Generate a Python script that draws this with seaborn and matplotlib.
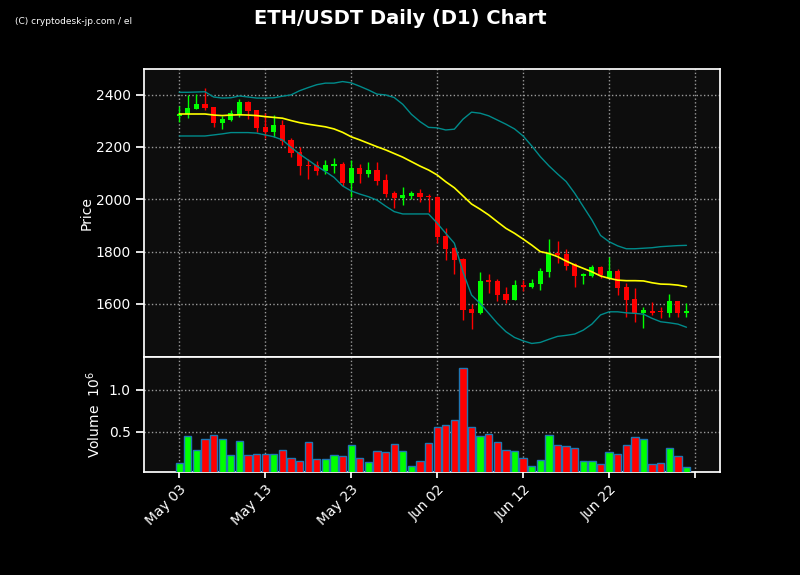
import numpy as np
import pandas as pd
import matplotlib
matplotlib.use("Agg")
import matplotlib.pyplot as plt
import seaborn as sns

# daily candles, May 03 .. Jul 01
opens = [2318, 2326, 2347, 2364, 2353, 2290, 2303, 2326, 2370, 2341,
         2277, 2259, 2284, 2226, 2180, 2132, 2131, 2108, 2128, 2135,
         2064, 2121, 2098, 2112, 2074, 2023, 2006, 2014, 2023, 2011,
         2008, 1858, 1814, 1772, 1579, 1566, 1690, 1688, 1638, 1617,
         1672, 1663, 1676, 1723, 1796, 1791, 1752, 1708, 1708, 1740,
         1700, 1727, 1664, 1619, 1565, 1575, 1574, 1567, 1610, 1567]
closes = [2325, 2348, 2364, 2350, 2290, 2307, 2331, 2372, 2338, 2274,
          2259, 2284, 2224, 2178, 2127, 2128, 2108, 2131, 2135, 2061,
          2120, 2098, 2112, 2071, 2019, 2006, 2016, 2023, 2007, 2007,
          1857, 1810, 1768, 1577, 1566, 1688, 1685, 1634, 1616, 1672,
          1663, 1679, 1727, 1796, 1787, 1745, 1707, 1713, 1740, 1710,
          1727, 1662, 1615, 1564, 1577, 1567, 1568, 1611, 1566, 1572]
highs = [2358, 2399, 2401, 2425, 2353, 2318, 2341, 2384, 2374, 2342,
         2329, 2322, 2303, 2233, 2199, 2155, 2145, 2150, 2157, 2142,
         2150, 2134, 2142, 2142, 2096, 2032, 2046, 2032, 2038, 2019,
         2012, 1891, 1816, 1775, 1598, 1721, 1713, 1697, 1664, 1691,
         1691, 1694, 1739, 1847, 1841, 1810, 1758, 1717, 1748, 1745,
         1781, 1733, 1681, 1660, 1590, 1609, 1590, 1637, 1611, 1602]
lows = [2297, 2310, 2345, 2341, 2278, 2268, 2300, 2314, 2306, 2256,
        2233, 2237, 2208, 2163, 2093, 2077, 2093, 2097, 2102, 2052,
        2008, 2061, 2084, 2053, 2010, 1966, 1977, 2000, 1991, 1953,
        1834, 1768, 1713, 1538, 1504, 1563, 1641, 1611, 1605, 1616,
        1650, 1660, 1653, 1704, 1755, 1730, 1666, 1676, 1704, 1698,
        1698, 1634, 1551, 1532, 1507, 1558, 1545, 1551, 1551, 1551]
volumes = [0.138, 0.452, 0.281, 0.417, 0.464, 0.417, 0.226, 0.393, 0.226, 0.245,
           0.245, 0.245, 0.281, 0.190, 0.162, 0.376, 0.178, 0.178, 0.226, 0.214,
           0.345, 0.190, 0.150, 0.274, 0.262, 0.357, 0.274, 0.095, 0.155, 0.369,
           0.560, 0.583, 0.643, 1.262, 0.560, 0.452, 0.476, 0.381, 0.286, 0.274,
           0.190, 0.095, 0.167, 0.464, 0.345, 0.333, 0.310, 0.155, 0.155, 0.119,
           0.262, 0.238, 0.345, 0.440, 0.417, 0.119, 0.131, 0.310, 0.214, 0.083]

# 20-day moving average and bollinger bands
ma = [2326, 2326, 2326, 2326, 2322, 2320, 2322, 2323, 2322, 2320,
      2316, 2313, 2310, 2301, 2293, 2287, 2282, 2277, 2269, 2256,
      2239, 2227, 2214, 2201, 2189, 2175, 2161, 2144, 2127, 2112,
      2093, 2067, 2044, 2013, 1982, 1962, 1940, 1914, 1889, 1870,
      1848, 1825, 1800, 1793, 1781, 1764, 1749, 1736, 1723, 1707,
      1698, 1691, 1689, 1689, 1688, 1681, 1676, 1675, 1672, 1666]
upper = [2409, 2409, 2410, 2411, 2391, 2387, 2388, 2395, 2391, 2387,
         2387, 2388, 2394, 2399, 2415, 2427, 2438, 2444, 2444, 2450,
         2445, 2432, 2418, 2402, 2399, 2389, 2363, 2325, 2297, 2275,
         2273, 2265, 2268, 2306, 2333, 2329, 2319, 2303, 2287, 2269,
         2242, 2204, 2163, 2128, 2097, 2068, 2023, 1972, 1921, 1862,
         1838, 1822, 1811, 1811, 1813, 1815, 1819, 1821, 1823, 1824]
lower = [2242, 2242, 2242, 2242, 2246, 2250, 2255, 2255, 2255, 2253,
         2246, 2239, 2227, 2199, 2173, 2150, 2127, 2106, 2084, 2051,
         2032, 2020, 2010, 1997, 1974, 1953, 1944, 1944, 1944, 1944,
         1909, 1870, 1832, 1723, 1634, 1602, 1564, 1526, 1494, 1472,
         1459, 1449, 1453, 1465, 1476, 1480, 1485, 1500, 1523, 1558,
         1570, 1570, 1566, 1564, 1561, 1545, 1532, 1528, 1523, 1511]

tick_pos = [0, 10, 20, 30, 40, 50, 60]
tick_labels = ['May 03', 'May 13', 'May 23', 'Jun 02', 'Jun 12', 'Jun 22', '']

df = pd.DataFrame({'open': opens, 'close': closes, 'high': highs, 'low': lows,
                   'volume': volumes, 'ma': ma, 'upper': upper, 'lower': lower})
df['idx'] = np.arange(len(df))
up = df['close'] >= df['open']
col = np.where(up, '#00ff00', '#ff0000')

sns.set_theme(style='dark', rc={
    'figure.facecolor': 'black', 'axes.facecolor': '#0d0d0d',
    'axes.edgecolor': 'white', 'axes.labelcolor': 'white',
    'xtick.color': 'white', 'ytick.color': 'white', 'text.color': 'white',
    'grid.color': '#9a9a9a', 'grid.linestyle': ':', 'grid.linewidth': 1.0,
    'axes.grid': True, 'xtick.bottom': True, 'ytick.left': True,
    'font.size': 10, 'axes.labelsize': 10, 'xtick.labelsize': 10, 'ytick.labelsize': 10,
})
plt.rcParams['font.family'] = ['DejaVu Sans']

fig = plt.figure(figsize=(8, 5.75), dpi=100)
ax = fig.add_axes([0.18, 0.379, 0.72, 0.501])
axv = fig.add_axes([0.18, 0.179, 0.72, 0.2], sharex=ax)

# candles
ax.vlines(df['idx'], df['low'], df['high'], colors=col, linewidth=1, zorder=3)
body = (df['close'] - df['open']).abs().clip(lower=2)
ax.bar(df['idx'], body, bottom=df[['open', 'close']].min(axis=1), width=0.6,
       color=col, linewidth=0, zorder=4)

sns.lineplot(data=df, x='idx', y='ma', ax=ax, color='#ffff00', linewidth=1.2, zorder=5)
sns.lineplot(data=df, x='idx', y='upper', ax=ax, color='#008b8b', linewidth=1, zorder=5)
sns.lineplot(data=df, x='idx', y='lower', ax=ax, color='#008b8b', linewidth=1, zorder=5)

ax.set_xlim(-4.1, 62.9)
ax.set_ylim(1397, 2498)
ax.set_yticks([1600, 1800, 2000, 2200, 2400])
ax.set_ylabel('Price')
ax.set_xlabel('')
ax.tick_params(axis='x', labelbottom=False, length=0)
for s in ax.spines.values():
    s.set_color('white')

# volume
axv.bar(df['idx'], df['volume'], width=0.85, color=col, edgecolor='#1f77b4',
        linewidth=1, zorder=3)
axv.set_ylim(0.3 * min(volumes), 1.1 * max(volumes))
axv.set_yticks([0.5, 1.0])
axv.set_ylabel('Volume  $10^{6}$')
axv.set_xticks(tick_pos)
axv.set_xticklabels(tick_labels, rotation=45, ha='right', rotation_mode='anchor')
axv.tick_params(axis='x', length=4)
for s in axv.spines.values():
    s.set_color('white')

ax.yaxis.set_label_coords(-0.088, 0.5)
axv.yaxis.set_label_coords(-0.071, 0.5)

fig.suptitle('ETH/USDT Daily (D1) Chart', fontsize=14, fontweight='bold',
             color='white', y=0.985)
fig.text(0.019, 0.963, '(C) cryptodesk-jp.com / el', fontsize=6.5, color='white',
         va='center')

fig.savefig('out.png', dpi=100, facecolor='black')
